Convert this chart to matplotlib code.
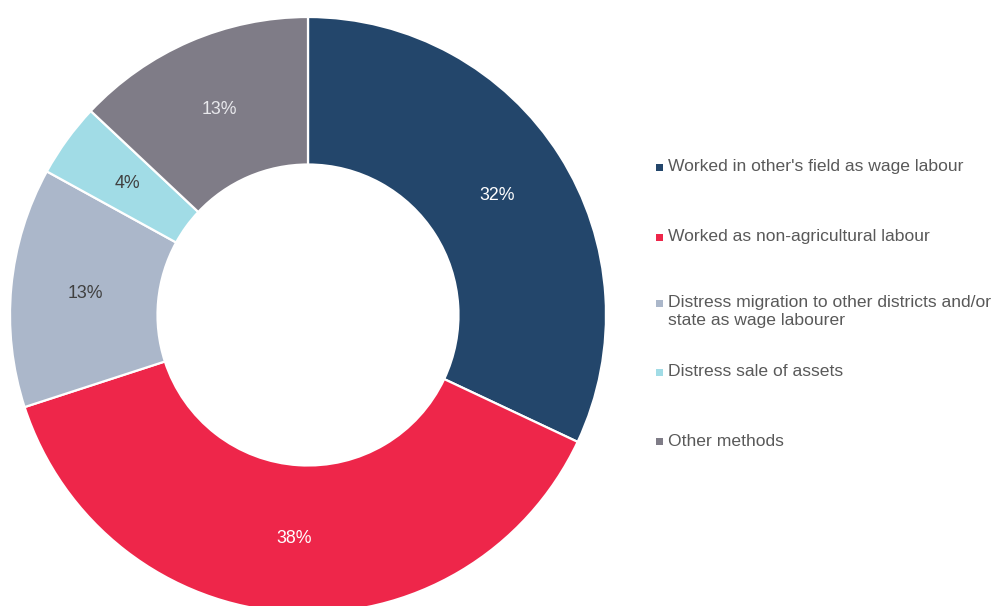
import matplotlib.pyplot as plt
from matplotlib.patches import Rectangle

plt.rcParams["font.family"] = ["Liberation Sans", "DejaVu Sans"]

labels = [
    "Worked in other's field as wage labour",
    "Worked as non-agricultural labour",
    "Distress migration to other districts and/or\nstate as wage labourer",
    "Distress sale of assets",
    "Other methods",
]
shares = [32, 38, 13, 4, 13]
colors = ["#23466B", "#EE264A", "#ABB7CA", "#A1DCE6", "#7F7C87"]
pct_colors = ["white", "white", "#404040", "#404040", "#E8E8EC"]

W, H = 1003, 606
cx, cy, R = 308, 315, 298   # pie centre and radius in pixels

fig = plt.figure(figsize=(W / 100, H / 100), dpi=100)
ax = fig.add_axes([0, 0, 1, 1])

wedges, texts, autotexts = ax.pie(
    shares, colors=colors, startangle=90, counterclock=False,
    radius=1.0, autopct="%d%%", pctdistance=0.75,
    wedgeprops=dict(width=0.495, edgecolor="white", linewidth=1.6),
    textprops=dict(fontsize=12.8),
)
for t, c in zip(autotexts, pct_colors):
    t.set_color(c)

ax.set_xlim(-cx / R, (W - cx) / R)
ax.set_ylim(-(H - cy) / R, cy / R)
ax.set_aspect("auto")
ax.axis("off")

# legend, placed by hand to follow the original spacing
leg_y = [167, 237, 312, 372, 441]
for lab, col, y in zip(labels, colors, leg_y):
    first_line_y = y - 9 if "\n" in lab else y
    fig.add_artist(Rectangle((656 / W, 1 - (first_line_y + 3.5) / H), 7 / W, 7 / H,
                             transform=fig.transFigure, facecolor=col, edgecolor="none"))
    fig.text(668 / W, 1 - y / H, lab, ha="left", va="center", fontsize=12.6,
             color="#595959", linespacing=1.25)

fig.savefig("out.png", dpi=100)
